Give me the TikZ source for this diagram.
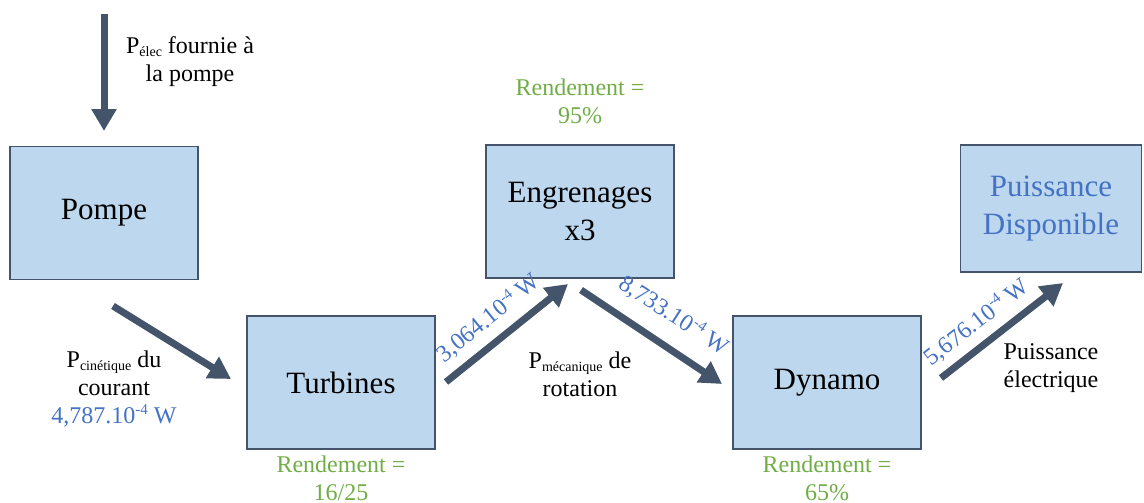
\documentclass[tikz,border=0pt]{standalone}
\usepackage{fontspec}
\setmainfont{Liberation Serif}
\usetikzlibrary{arrows.meta}
\definecolor{boxfill}{HTML}{BDD7EE}
\definecolor{boxline}{HTML}{44546A}
\definecolor{arrcol}{HTML}{44546A}
\definecolor{txtblue}{HTML}{4472C4}
\definecolor{txtgreen}{HTML}{70AD47}
\newcommand\mysub[1]{\raisebox{-3pt}{\fontsize{14}{14}\selectfont #1}}
\newcommand\mysup[1]{\raisebox{9pt}{\fontsize{15}{15}\selectfont #1}}
\begin{document}
\begin{tikzpicture}[x=1pt,y=-1pt,
 blockbox/.style={draw=boxline, line width=1.8pt, fill=boxfill, minimum width=188pt, minimum height=133pt, inner sep=0pt, align=center, font=\fontsize{31}{38}\selectfont},
 flow/.style={draw=arrcol, line width=7pt, -{Triangle[length=22pt,width=24pt]}},
 lbl/.style={align=center, font=\fontsize{24}{28}\selectfont, inner sep=0pt},
 bluelbl/.style={lbl, text=txtblue},
 greenlbl/.style={lbl, text=txtgreen},
]
\useasboundingbox (0,0) rectangle (1144,503);

% boxes
\node[blockbox] (pompe) at (104,213) {Pompe};
\node[blockbox] (turb) at (341,382.5) {Turbines};
\node[blockbox] (engr) at (580,211.5) {Engrenages\\x3};
\node[blockbox] (dyn) at (827,382.5) {Dynamo};
\node[blockbox, minimum width=181pt, minimum height=127pt, text=txtblue] (disp) at (1051,208.5) {Puissance\\Disponible};

% arrow end points
\coordinate (a1s) at (104,14);  \coordinate (a1e) at (104,131);
\coordinate (a2s) at (113,306); \coordinate (a2e) at (231,379);
\coordinate (a3s) at (446,382); \coordinate (a3e) at (568,284);
\coordinate (a4s) at (581,290); \coordinate (a4e) at (722,384);
\coordinate (a5s) at (941,378); \coordinate (a5e) at (1063,283);

\draw[flow] (a1s) -- (a1e);
\draw[flow] (a2s) -- (a2e);
\draw[flow] (a3s) -- (a3e);
\draw[flow] (a4s) -- (a4e);
\draw[flow] (a5s) -- (a5e);

% labels
\node[lbl] (lelec) at (190,62) {P\mysub{élec} fournie à\\la pompe};
\node[lbl] (lcin) at (114,373) {P\mysub{cinétique} du\\courant};
\node[bluelbl] (vcin) at (114,416) {4,787.10\mysup{-4} W};
\node[bluelbl, rotate=39] (v3) at (488,318) {3,064.10\mysup{-4} W};
\node[bluelbl, rotate=-33] (v4) at (674,315) {8,733.10\mysup{-4} W};
\node[bluelbl, rotate=38] (v5) at (976,322) {5,676.10\mysup{-4} W};
\node[lbl] (lmec) at (580,374) {P\mysub{mécanique} de\\rotation};
\node[lbl] (lelq) at (1051,368) {Puissance\\électrique};
\node[greenlbl] (r1) at (580,101) {Rendement =\\95\%};
\node[greenlbl] (r2) at (341,478) {Rendement =\\16/25};
\node[greenlbl] (r3) at (827,478) {Rendement =\\65\%};
\end{tikzpicture}
\end{document}
